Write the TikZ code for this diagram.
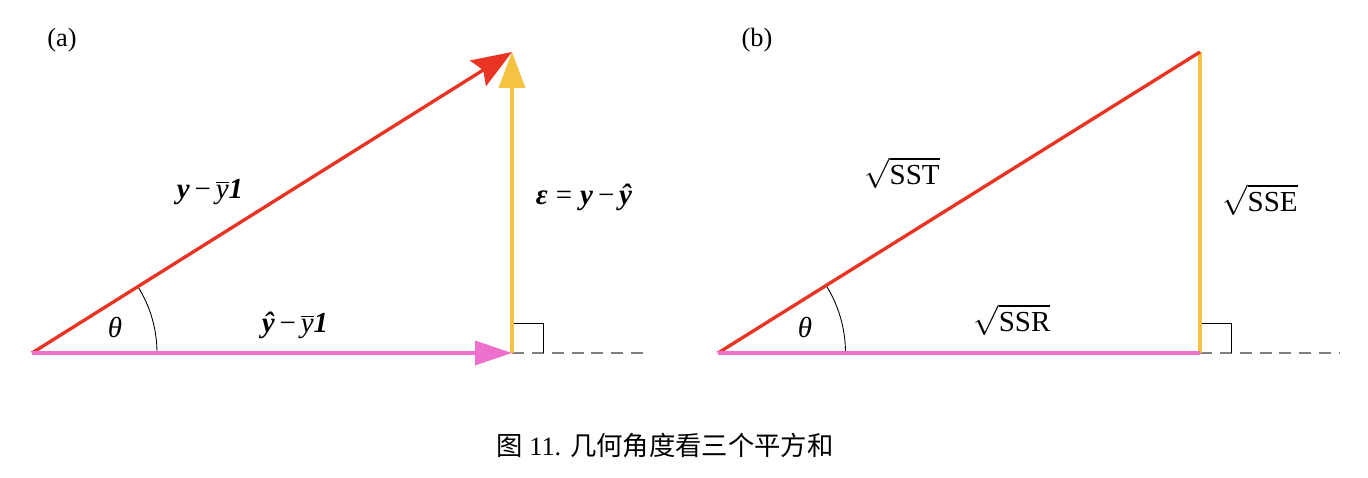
\documentclass[tikz,border=0pt]{standalone}
\usepackage{fontspec}
\setmainfont{Liberation Serif}
\newfontfamily\cjk{Noto Sans CJK SC}
\usetikzlibrary{arrows.meta}
\definecolor{vecred}{RGB}{233,51,35}
\definecolor{vecyellow}{RGB}{245,194,66}
\definecolor{vecpink}{RGB}{236,112,204}
\newcommand{\bv}[1]{\textbf{\textit{#1}}}
\newcommand{\ybar}{$\overline{\mbox{\itshape y}}$}
\tikzset{
  redvec/.style={draw=vecred, line width=1.9pt},
  yellowvec/.style={draw=vecyellow, line width=2.2pt},
  pinkvec/.style={draw=vecpink, line width=2pt},
  guide/.style={draw=black, line width=0.5pt},
  dashguide/.style={draw=gray, line width=0.6pt, dash pattern=on 6.8pt off 4.5pt},
  lbl/.style={font=\fontsize{16.5}{19}\selectfont, inner sep=0pt},
  tag/.style={font=\fontsize{15}{18}\selectfont, inner sep=0pt}
}
\begin{document}
\begin{tikzpicture}
\useasboundingbox (0,0) rectangle (27.36,9.56);

% panel (a)
\coordinate (Oa) at (0.64,2.5);
\coordinate (Ha) at (10.24,2.5);
\coordinate (Ta) at (10.24,8.52);
\coordinate (Ea) at (13.0,2.5);

\draw[dashguide] (Ha) -- (Ea);
\draw[guide] ([yshift=0.6cm]Ha) -| ([xshift=0.62cm]Ha);
\draw[guide] ([shift={(2.5,0)}]Oa) arc[start angle=0, end angle=32.1, radius=2.5];
\draw[yellowvec, -{Triangle[length=0.72cm, width=0.52cm]}] (Ha) -- (Ta);
\draw[redvec, -{Stealth[length=0.8cm, width=0.6cm, inset=0.12cm]}] (Oa) -- (Ta);
\draw[pinkvec, -{Triangle[length=0.74cm, width=0.48cm]}] (Oa) -- (Ha);

\node[tag] (taga) at (1.24,8.76) {(a)};
\node[lbl] (resid) at (11.68,5.62) {\bv{ε}\;=\;\bv{y}\,−\,\bv{ŷ}};
\node[lbl] (total) at (4.2,5.72) {\bv{y}\,−\,\ybar\bv{1}};
\node[lbl] (fitted) at (5.9,3.06) {\bv{ŷ}\,−\,\ybar\bv{1}};
\node[lbl] (thetaa) at (2.3,3.0) {\textit{θ}};

% panel (b)
\coordinate (Ob) at (14.36,2.5);
\coordinate (Hb) at (24.0,2.5);
\coordinate (Tb) at (24.0,8.52);
\coordinate (Eb) at (26.8,2.5);

\draw[dashguide] (Hb) -- (Eb);
\draw[guide] ([yshift=0.6cm]Hb) -| ([xshift=0.62cm]Hb);
\draw[guide] ([shift={(2.55,0)}]Ob) arc[start angle=0, end angle=32.1, radius=2.55];
\draw[yellowvec] (Hb) -- (Tb);
\draw[redvec] (Ob) -- (Tb);
\draw[pinkvec] (Ob) -- (Hb);

\node[tag] (tagb) at (15.14,8.76) {(b)};
\node[lbl] (sst) at (18.04,6.1) {$\sqrt{\mbox{SST}}$};
\node[lbl] (sse) at (25.2,5.56) {$\sqrt{\mbox{SSE}}$};
\node[lbl] (ssr) at (20.24,3.16) {$\sqrt{\mbox{SSR}}$};
\node[lbl] (thetab) at (16.1,3.0) {\textit{θ}};

% caption
\node[tag] (caption) at (13.3,0.64) {{\cjk 图} 11. {\cjk 几何角度看三个平方和}};
\end{tikzpicture}
\end{document}
